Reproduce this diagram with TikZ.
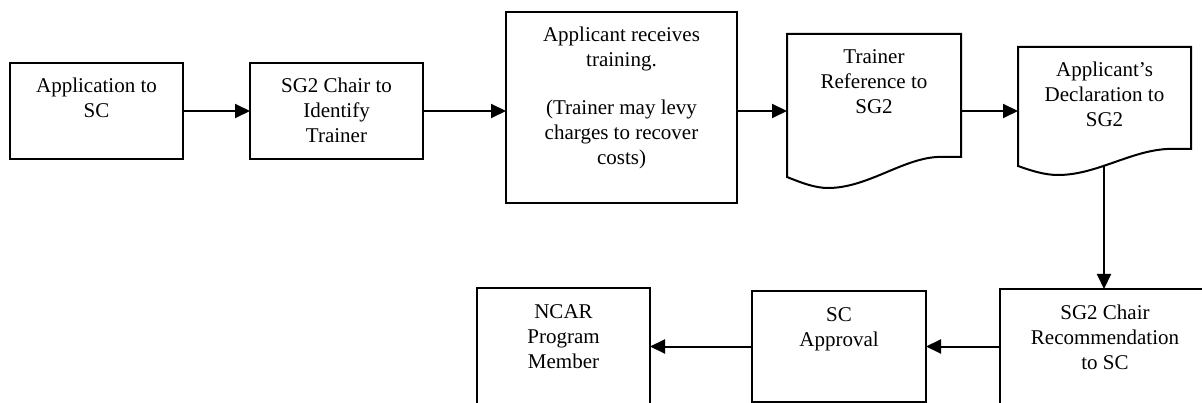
\documentclass[tikz,border=0pt]{standalone}
\usepackage{fontspec}
\setmainfont{Liberation Serif}
\newfontfamily\serifT{Liberation Serif}
\usetikzlibrary{arrows.meta,calc}
\newcommand{\boxtext}[3]{\parbox[c][#2pt][t]{#1pt}{\centering\rule{0pt}{30pt}#3}}
\begin{document}
\begin{tikzpicture}[x=1pt,y=-1pt,
  every node/.style={font=\serifT\fontsize{21pt}{25pt}\selectfont, inner sep=0pt, outer sep=0pt},
  procbox/.style={draw, line width=2pt},
  docbox/.style={},
  docline/.style={line width=2pt, line join=miter},
  flow/.style={line width=2pt, -{Triangle[length=15pt,width=14pt]}}]
\useasboundingbox (0,0) rectangle (1202,403);
\clip (0,0) rectangle (1202,403);

\node[procbox] (b1) at (96.5,111) {\boxtext{173}{96}{Application to\\SC}};
\node[procbox] (b2) at (336.5,111) {\boxtext{173}{96}{SG2 Chair to\\Identify\\Trainer}};
\node[procbox] (b3) at (621.5,107.5) {\boxtext{231}{191}{Applicant receives\\training.\\[23pt](Trainer may levy\\charges to recover\\costs)}};
\node[docbox] (b4) at (874,95.5) {\boxtext{174}{123}{Trainer\\Reference to\\SG2}};
\node[docbox] (b5) at (1104.5,98) {\boxtext{173}{102}{Applicant’s\\Declaration to\\SG2}};
\node[procbox] (b6) at (1105,354.5) {\boxtext{210}{131}{SG2 Chair\\Recommendation\\to SC}};
\node[procbox] (b7) at (839,346.5) {\boxtext{174}{111}{SC\\Approval}};
\node[procbox] (b8) at (563.5,354) {\boxtext{173}{132}{NCAR\\Program\\Member}};

% document shapes
\draw[docline] (b4.south east) -- (b4.north east) -- (b4.north west)
  -- ($(b4.south west)+(0,20)$)
  .. controls ($(b4.south west)+(15,26)$) and ($(b4.south west)+(28,31)$) .. ($(b4.south west)+(41,31)$)
  .. controls ($(b4.south west)+(80,31)$) and ($(b4.south west)+(115,2)$) .. ($(b4.south west)+(150,0)$)
  -- cycle;
\draw[docline] (b5.south east) -- (b5.north east) -- (b5.north west)
  -- ($(b5.south west)+(0,17)$)
  .. controls ($(b5.south west)+(14,22)$) and ($(b5.south west)+(27,26)$) .. ($(b5.south west)+(40,26)$)
  .. controls ($(b5.south west)+(78,26)$) and ($(b5.south west)+(112,2)$) .. ($(b5.south west)+(149,0)$)
  -- cycle;
\coordinate (b5w) at ($(b5.south west)+(86,16.7)$);

% connectors
\draw[flow] (b1.east) -- (b2.west);
\draw[flow] (b2.east) -- (b2.east -| b3.west);
\draw[flow] (b3.east |- b2.east) -- (b2.east -| b4.west);
\draw[flow] (b4.east |- b2.east) -- (b2.east -| b5.west);
\draw[flow] (b5w) -- (b5w |- b6.north);
\draw[flow] (b7.east -| b6.west) -- (b7.east);
\draw[flow] (b7.west) -- (b7.west -| b8.east);
\end{tikzpicture}
\end{document}
